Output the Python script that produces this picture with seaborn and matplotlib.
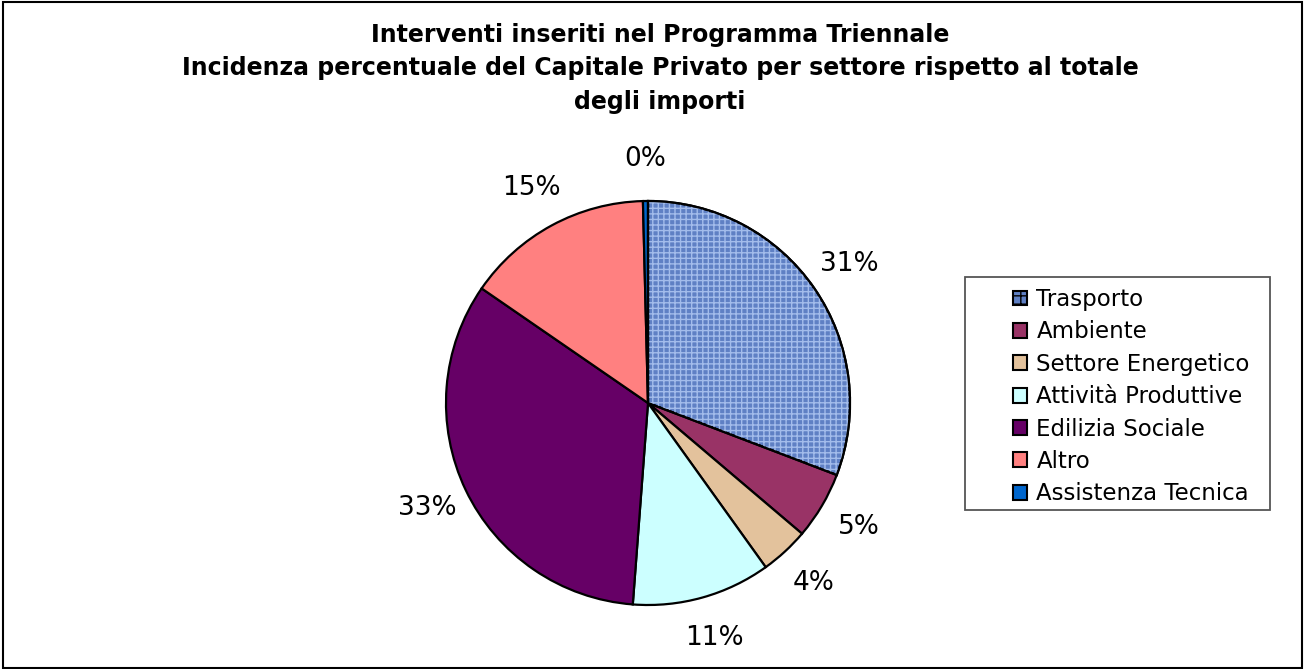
import numpy as np
import seaborn as sns
import matplotlib.pyplot as plt
from matplotlib.patches import Wedge, Rectangle, Patch

# Data (percent of total)
settori = ['Trasporto', 'Ambiente', 'Settore Energetico', 'Attività Produttive',
           'Edilizia Sociale', 'Altro', 'Assistenza Tecnica']
quote = [30.8, 5.4, 3.9, 11.1, 33.4, 15.0, 0.4]
colori = ['#5F80C4', '#993366', '#E3C29C', '#CCFFFF', '#660066', '#FF8080', '#0066CC']

titolo = ('Interventi inseriti nel Programma Triennale\n'
          'Incidenza percentuale del Capitale Privato per settore rispetto al totale\n'
          'degli importi')

sns.set_style('white')
plt.rcParams['font.family'] = ['DejaVu Sans']
plt.rcParams['text.color'] = 'black'
palette = sns.color_palette(colori)

W, H = 1305, 669
cx, cy, r = 648, 403, 202

fig = plt.figure(figsize=(W / 100, H / 100), dpi=100)
ax = fig.add_axes([0, 0, 1, 1])

wedges, texts, autotexts = ax.pie(
    quote, colors=palette, startangle=90, counterclock=False,
    autopct=lambda p: f'{p:.0f}%', pctdistance=1.21,
    wedgeprops=dict(edgecolor='black', linewidth=1.6),
    textprops=dict(fontsize=19, color='black'))
for t in autotexts:
    t.set_ha('center')
    t.set_va('center')

# axes in units of the pie radius, one unit = r pixels in both directions
ax.set_aspect('auto')
ax.set_xlim(-cx / r, (W - cx) / r)
ax.set_ylim(-(H - cy) / r, cy / r)
ax.axis('off')

# texture on Trasporto slice
w0 = wedges[0]
ax.add_patch(Wedge(w0.center, w0.r, w0.theta1, w0.theta2, fill=False,
                   hatch='+++', edgecolor='#A3BCEB', linewidth=0, zorder=w0.get_zorder() + 0.1))
ax.add_patch(Wedge(w0.center, w0.r, w0.theta1, w0.theta2, fill=False,
                   edgecolor='black', linewidth=1.6, zorder=w0.get_zorder() + 0.2))

# legend frame drawn by hand (wide left padding as in the original)
fig.patches.append(Rectangle((965 / W, 1 - 510 / H), 305 / W, 233 / H,
                             transform=fig.transFigure, fill=False,
                             edgecolor='#555555', linewidth=1.3))
handles = []
for i, (s, c) in enumerate(zip(settori, palette)):
    h = Patch(facecolor=c, edgecolor='black', linewidth=1.5, label=s)
    if i == 0:
        h.set_hatch('++')
    handles.append(h)
leg = fig.legend(handles=handles, loc='upper left',
                 bbox_to_anchor=(1013 / W, 1 - 288 / H), fontsize=16.5,
                 frameon=False, handlelength=0.62, handleheight=0.62,
                 handletextpad=0.4, labelspacing=0.41, borderpad=0,
                 borderaxespad=0)
for t in leg.get_texts():
    t.set_color('black')

fig.text(660 / W, 1 - 23 / H, titolo, ha='center', va='top', fontsize=17,
         fontweight='bold', linespacing=1.5, color='black')

fig.patches.append(Rectangle((0.002, 0.002), 0.996, 0.995, transform=fig.transFigure,
                             fill=False, edgecolor='black', linewidth=1.5))

fig.savefig('out.png', dpi=100)
